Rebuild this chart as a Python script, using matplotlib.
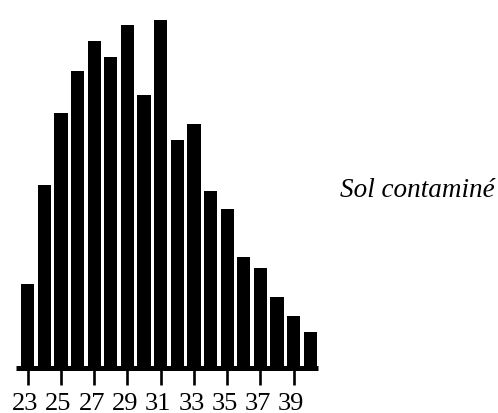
import matplotlib
matplotlib.use('Agg')
import matplotlib.pyplot as plt
from matplotlib.transforms import ScaledTranslation

# classes (x) and bar heights
classes = list(range(23, 41))
counts = [84, 183, 255, 297, 327, 311, 343, 273, 348, 228, 244, 177, 159, 111, 100, 71, 52, 36]
tick_values = [23, 25, 27, 29, 31, 33, 35, 37, 39]
label = 'Sol contaminé'

plt.rcParams['font.family'] = ['Liberation Serif', 'DejaVu Serif']

fig = plt.figure(figsize=(4.98, 4.13), dpi=100)
ax = fig.add_axes([16 / 498, 45.5 / 413, 302 / 498, 360 / 413])

ax.bar(classes, counts, width=0.8, color='black', edgecolor='none')

ax.set_xlim(22.30, 40.46)
ax.set_ylim(0, 360)

for side in ['top', 'right', 'left']:
    ax.spines[side].set_visible(False)
ax.spines['bottom'].set_linewidth(3.6)
ax.spines['bottom'].set_capstyle('butt')

ax.set_yticks([])
ax.set_xticks(tick_values)
ax.set_xticklabels([str(v) for v in tick_values])
ax.tick_params(axis='x', direction='out', length=12, width=1.9, pad=6, labelsize=19)

# labels sit a little left of their ticks in the original
shift = ScaledTranslation(-2.5 / 100, 0, fig.dpi_scale_trans)
for t in ax.get_xticklabels():
    t.set_transform(t.get_transform() + shift)

fig.text(340 / 498, 1 - 197 / 413, label, fontsize=19.5, style='italic',
         ha='left', va='baseline')

fig.savefig('out.png', dpi=100)
